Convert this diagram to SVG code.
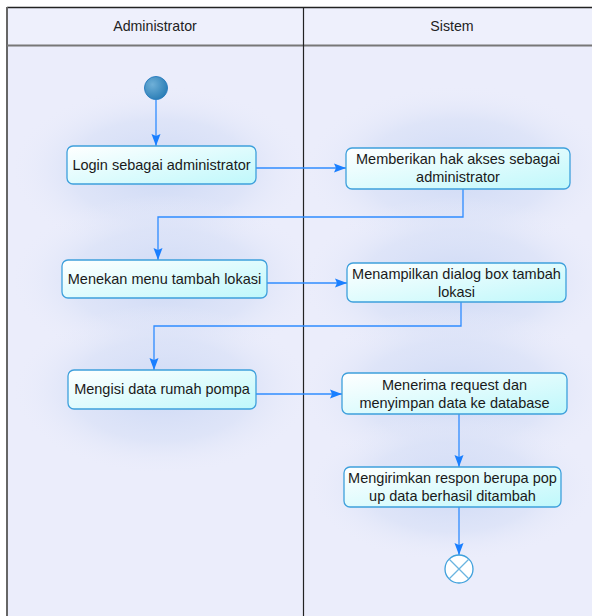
<svg xmlns="http://www.w3.org/2000/svg" width="592" height="616" viewBox="0 0 592 616">
<defs>
<style>
.lbl{font-family:"Liberation Sans",Arial,sans-serif;font-size:14.5px;fill:#1a1a1a;text-anchor:middle}
.hdr{font-family:"Liberation Sans",Arial,sans-serif;font-size:14.2px;fill:#222;text-anchor:middle}
.node{fill:url(#nodeG);stroke:#3ea0dc;stroke-width:1.3}
.edge{fill:none;stroke:#2f8cff;stroke-width:1.3}
</style>
<linearGradient id="nodeG" x1="0" y1="0" x2="1" y2="1">
<stop offset="0" stop-color="#ffffff"/>
<stop offset="1" stop-color="#bff8fb"/>
</linearGradient>
<radialGradient id="glow" cx="0.5" cy="0.5" r="0.5">
<stop offset="0" stop-color="#cdd9f5"/>
<stop offset="0.6" stop-color="#d9e1f7" stop-opacity="0.7"/>
<stop offset="1" stop-color="#ebedfb" stop-opacity="0"/>
</radialGradient>
<radialGradient id="startG" cx="0.35" cy="0.35" r="0.7">
<stop offset="0" stop-color="#6fb0d8"/>
<stop offset="1" stop-color="#2a7db5"/>
</radialGradient>
<marker id="arr" viewBox="0 0 12 10" refX="12" refY="5" markerWidth="12" markerHeight="10" markerUnits="userSpaceOnUse" orient="auto">
<path d="M0,0.5 L2,5 L0,9.5 L12,5 Z" fill="#1a7fff"/>
</marker>
</defs>
<rect x="0" y="0" width="592" height="616" fill="#ffffff"/>
<rect x="7" y="7" width="585" height="609" fill="#ebedfb"/>
<g id="glows">
<ellipse cx="160" cy="170" rx="150" ry="85" fill="url(#glow)"/>
<ellipse cx="458" cy="170" rx="155" ry="85" fill="url(#glow)"/>
<ellipse cx="165" cy="280" rx="155" ry="85" fill="url(#glow)"/>
<ellipse cx="456" cy="282" rx="155" ry="85" fill="url(#glow)"/>
<ellipse cx="162" cy="390" rx="150" ry="85" fill="url(#glow)"/>
<ellipse cx="455" cy="392" rx="155" ry="85" fill="url(#glow)"/>
<ellipse cx="452" cy="487" rx="145" ry="75" fill="url(#glow)"/>
</g>
<rect x="7" y="7" width="585" height="38" fill="#eef0fc"/>
<g id="lanes">
<line x1="7" y1="7.5" x2="592" y2="7.5" stroke="#222" stroke-width="1.5"/>
<line x1="7" y1="7" x2="7" y2="616" stroke="#666" stroke-width="2"/>
<line x1="7" y1="45.5" x2="592" y2="45.5" stroke="#777" stroke-width="2"/>
<line x1="303.5" y1="7" x2="303.5" y2="616" stroke="#222" stroke-width="1.2"/>
<text class="hdr" x="155" y="31">Administrator</text>
<text class="hdr" x="452" y="31">Sistem</text>
</g>
<g id="connectors">
<path class="edge" d="M156,100 V146" marker-end="url(#arr)"/>
<path class="edge" d="M256,168 H346" marker-end="url(#arr)"/>
<path class="edge" d="M463,189 V217 H158 V260" marker-end="url(#arr)"/>
<path class="edge" d="M267,283 H347" marker-end="url(#arr)"/>
<path class="edge" d="M461,302 V326 H154 V370" marker-end="url(#arr)"/>
<path class="edge" d="M256,394 H342" marker-end="url(#arr)"/>
<path class="edge" d="M459,414 V467" marker-end="url(#arr)"/>
<path class="edge" d="M459,507 V555" marker-end="url(#arr)"/>
</g>
<g id="start"><circle cx="156" cy="88" r="11.5" fill="url(#startG)" stroke="#2d7fc0" stroke-width="1"/></g>
<g id="n1"><rect class="node" x="67" y="146" width="189" height="38" rx="6"/><text class="lbl" x="161.5" y="170">Login sebagai administrator</text></g>
<g id="n2"><rect class="node" x="346" y="148" width="224" height="41" rx="6"/><text class="lbl" x="458" y="164">Memberikan hak akses sebagai</text><text class="lbl" x="458" y="182">administrator</text></g>
<g id="n3"><rect class="node" x="62" y="260" width="205" height="38" rx="6"/><text class="lbl" x="164.5" y="284">Menekan menu tambah lokasi</text></g>
<g id="n4"><rect class="node" x="347" y="263" width="219" height="39" rx="6"/><text class="lbl" x="456.5" y="279">Menampilkan dialog box tambah</text><text class="lbl" x="456.5" y="297">lokasi</text></g>
<g id="n5"><rect class="node" x="68" y="370" width="188" height="39" rx="6"/><text class="lbl" x="162" y="394">Mengisi data rumah pompa</text></g>
<g id="n6"><rect class="node" x="342" y="373" width="225" height="41" rx="6"/><text class="lbl" x="454.5" y="390">Menerima request dan</text><text class="lbl" x="454.5" y="408">menyimpan data ke database</text></g>
<g id="n7"><rect class="node" x="344" y="467" width="217" height="40" rx="6"/><text class="lbl" x="452.5" y="483">Mengirimkan respon berupa pop</text><text class="lbl" x="452.5" y="501">up data berhasil ditambah</text></g>
<g id="end"><circle cx="459" cy="569" r="14" fill="#ffffff" stroke="#3ea0dc" stroke-width="1.3"/><path d="M449,559 L469,579 M469,559 L449,579" stroke="#6ab4e0" stroke-width="1.3"/></g>
</svg>
